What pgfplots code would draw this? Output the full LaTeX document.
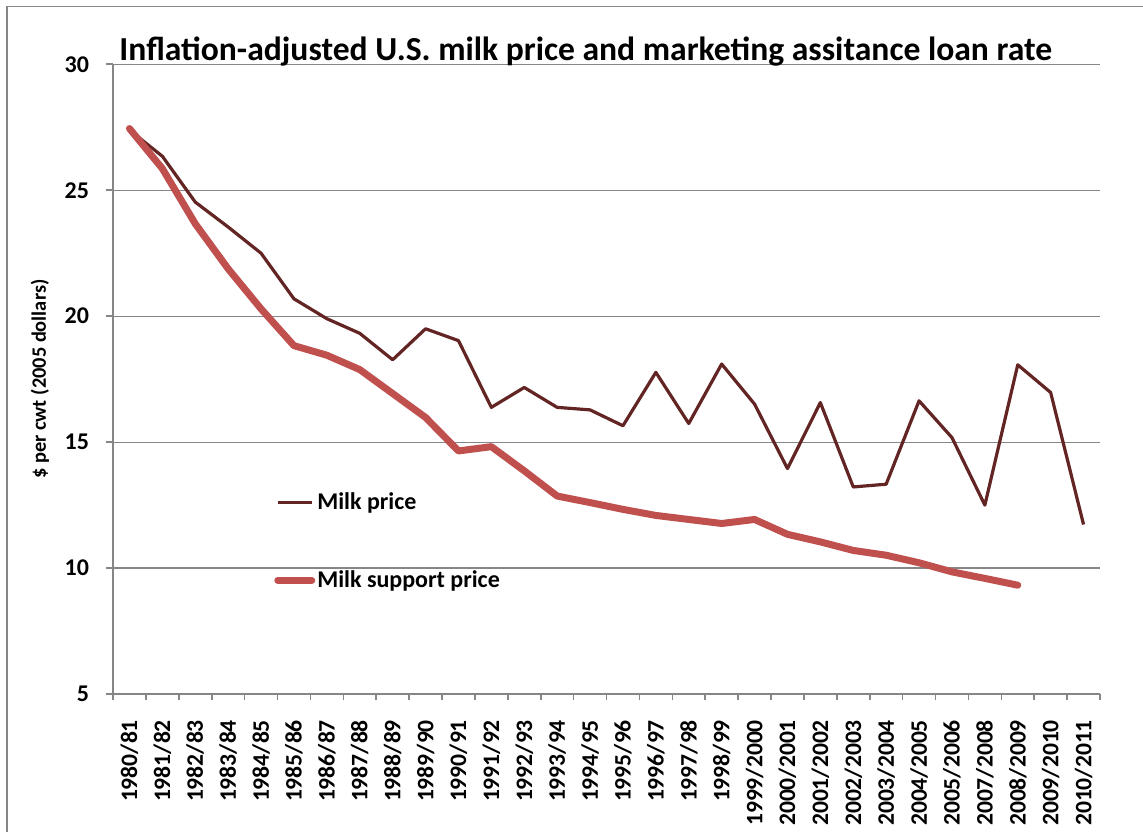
\documentclass[border=0pt]{standalone}
\usepackage{pgfplots}
\pgfplotsset{compat=1.18}
\usepackage{pgfplotstable}
\usepackage{fontspec}
\setmainfont{Carlito}

\definecolor{milkdark}{RGB}{99,37,35}
\definecolor{milkred}{RGB}{192,80,77}
\definecolor{gridgray}{RGB}{134,134,134}

% milk price, inflation adjusted
\pgfplotstableread{
x y
0 27.39
1 26.35
2 24.53
3 23.54
4 22.50
5 20.69
6 19.90
7 19.32
8 18.27
9 19.50
10 19.03
11 16.38
12 17.17
13 16.38
14 16.28
15 15.65
16 17.77
17 15.74
18 18.10
19 16.51
20 13.95
21 16.57
22 13.22
23 13.33
24 16.64
25 15.18
26 12.50
27 18.07
28 16.97
29 11.73
}\milkprice

% support price
\pgfplotstableread{
x y
0 27.45
1 25.86
2 23.67
3 21.88
4 20.29
5 18.83
6 18.45
7 17.88
8 16.93
9 15.98
10 14.65
11 14.82
12 13.86
13 12.86
14 12.60
15 12.33
16 12.09
17 11.93
18 11.77
19 11.93
20 11.34
21 11.04
22 10.70
23 10.51
24 10.21
25 9.85
26 9.59
27 9.32
}\supportprice

\begin{document}
\begin{tikzpicture}
\begin{axis}[
  scale only axis,
  width=493.5pt, height=314.85pt,
  xmin=-0.5, xmax=29.5,
  ymin=5, ymax=30,
  ytick={5,10,...,30},
  xtick={0,...,29},
  xticklabels={1980/81,1981/82,1982/83,1983/84,1984/85,1985/86,1986/87,1987/88,1988/89,1989/90,1990/91,1991/92,1992/93,1993/94,1994/95,1995/96,1996/97,1997/98,1998/99,1999/2000,2000/2001,2001/2002,2002/2003,2003/2004,2004/2005,2005/2006,2007/2008,2008/2009,2009/2010,2010/2011},
  minor xtick={-0.5,0.5,...,29.5},
  x tick style={draw=none},
  minor x tick style={draw=gridgray, line width=0.8pt},
  minor tick length=3pt,
  y tick style={draw=gridgray, line width=0.8pt},
  major tick length=3.5pt,
  tick align=outside,
  axis x line*=bottom,
  axis y line*=left,
  axis line style={draw=gridgray, line width=0.8pt},
  ymajorgrids=true,
  grid style={draw=gridgray, line width=0.6pt},
  /pgf/number format/assume math mode=true,
  yticklabel style={font=\fontsize{12}{14}\selectfont\bfseries, text=black, xshift=-5pt},
  xticklabel style={font=\fontsize{11.8}{14}\selectfont\bfseries, text=black, rotate=90, anchor=east, xshift=-6pt},
  ylabel={\$ per cwt (2005 dollars)},
  ylabel style={font=\fontsize{10.2}{12}\selectfont\bfseries, at={(rel axis cs:0,0.5)}, anchor=center, yshift=36.5pt},
  title={Inflation-adjusted U.S. milk price and marketing assitance loan rate},
  title style={font=\fontsize{16.8}{19}\selectfont\bfseries, at={(0.479,1)}, anchor=base, yshift=-4pt},
  legend style={draw=none, fill=none, at={(0.163,0.324)}, anchor=north west,
    font=\fontsize{12}{14}\selectfont\bfseries, row sep=27pt, inner sep=0pt,
    nodes={inner sep=1pt}},
  legend cell align=left,
  legend image code/.code={\draw[#1] (0pt,0pt) -- (17pt,0pt);},
  clip=false,
]
\addplot[milkdark, line width=1.6pt, line join=round] table[x=x,y=y] {\milkprice};
\addlegendentry{Milk price}
\addplot[milkred, line width=3.5pt, line join=round, line cap=round] table[x=x,y=y] {\supportprice};
\addlegendentry{Milk support price}
% chart frame (top and left edges)
\draw[gridgray, line width=0.8pt]
  (rel axis cs:-0.1071,-0.30) -- (rel axis cs:-0.1071,1.0915) -- (rel axis cs:1.1,1.0915);
\end{axis}
\pgfresetboundingbox
\path[use as bounding box] ([xshift=-56.5pt,yshift=-68.5pt]current axis.south west) rectangle ([xshift=21.5pt,yshift=32.15pt]current axis.north east);
\end{tikzpicture}
\end{document}
